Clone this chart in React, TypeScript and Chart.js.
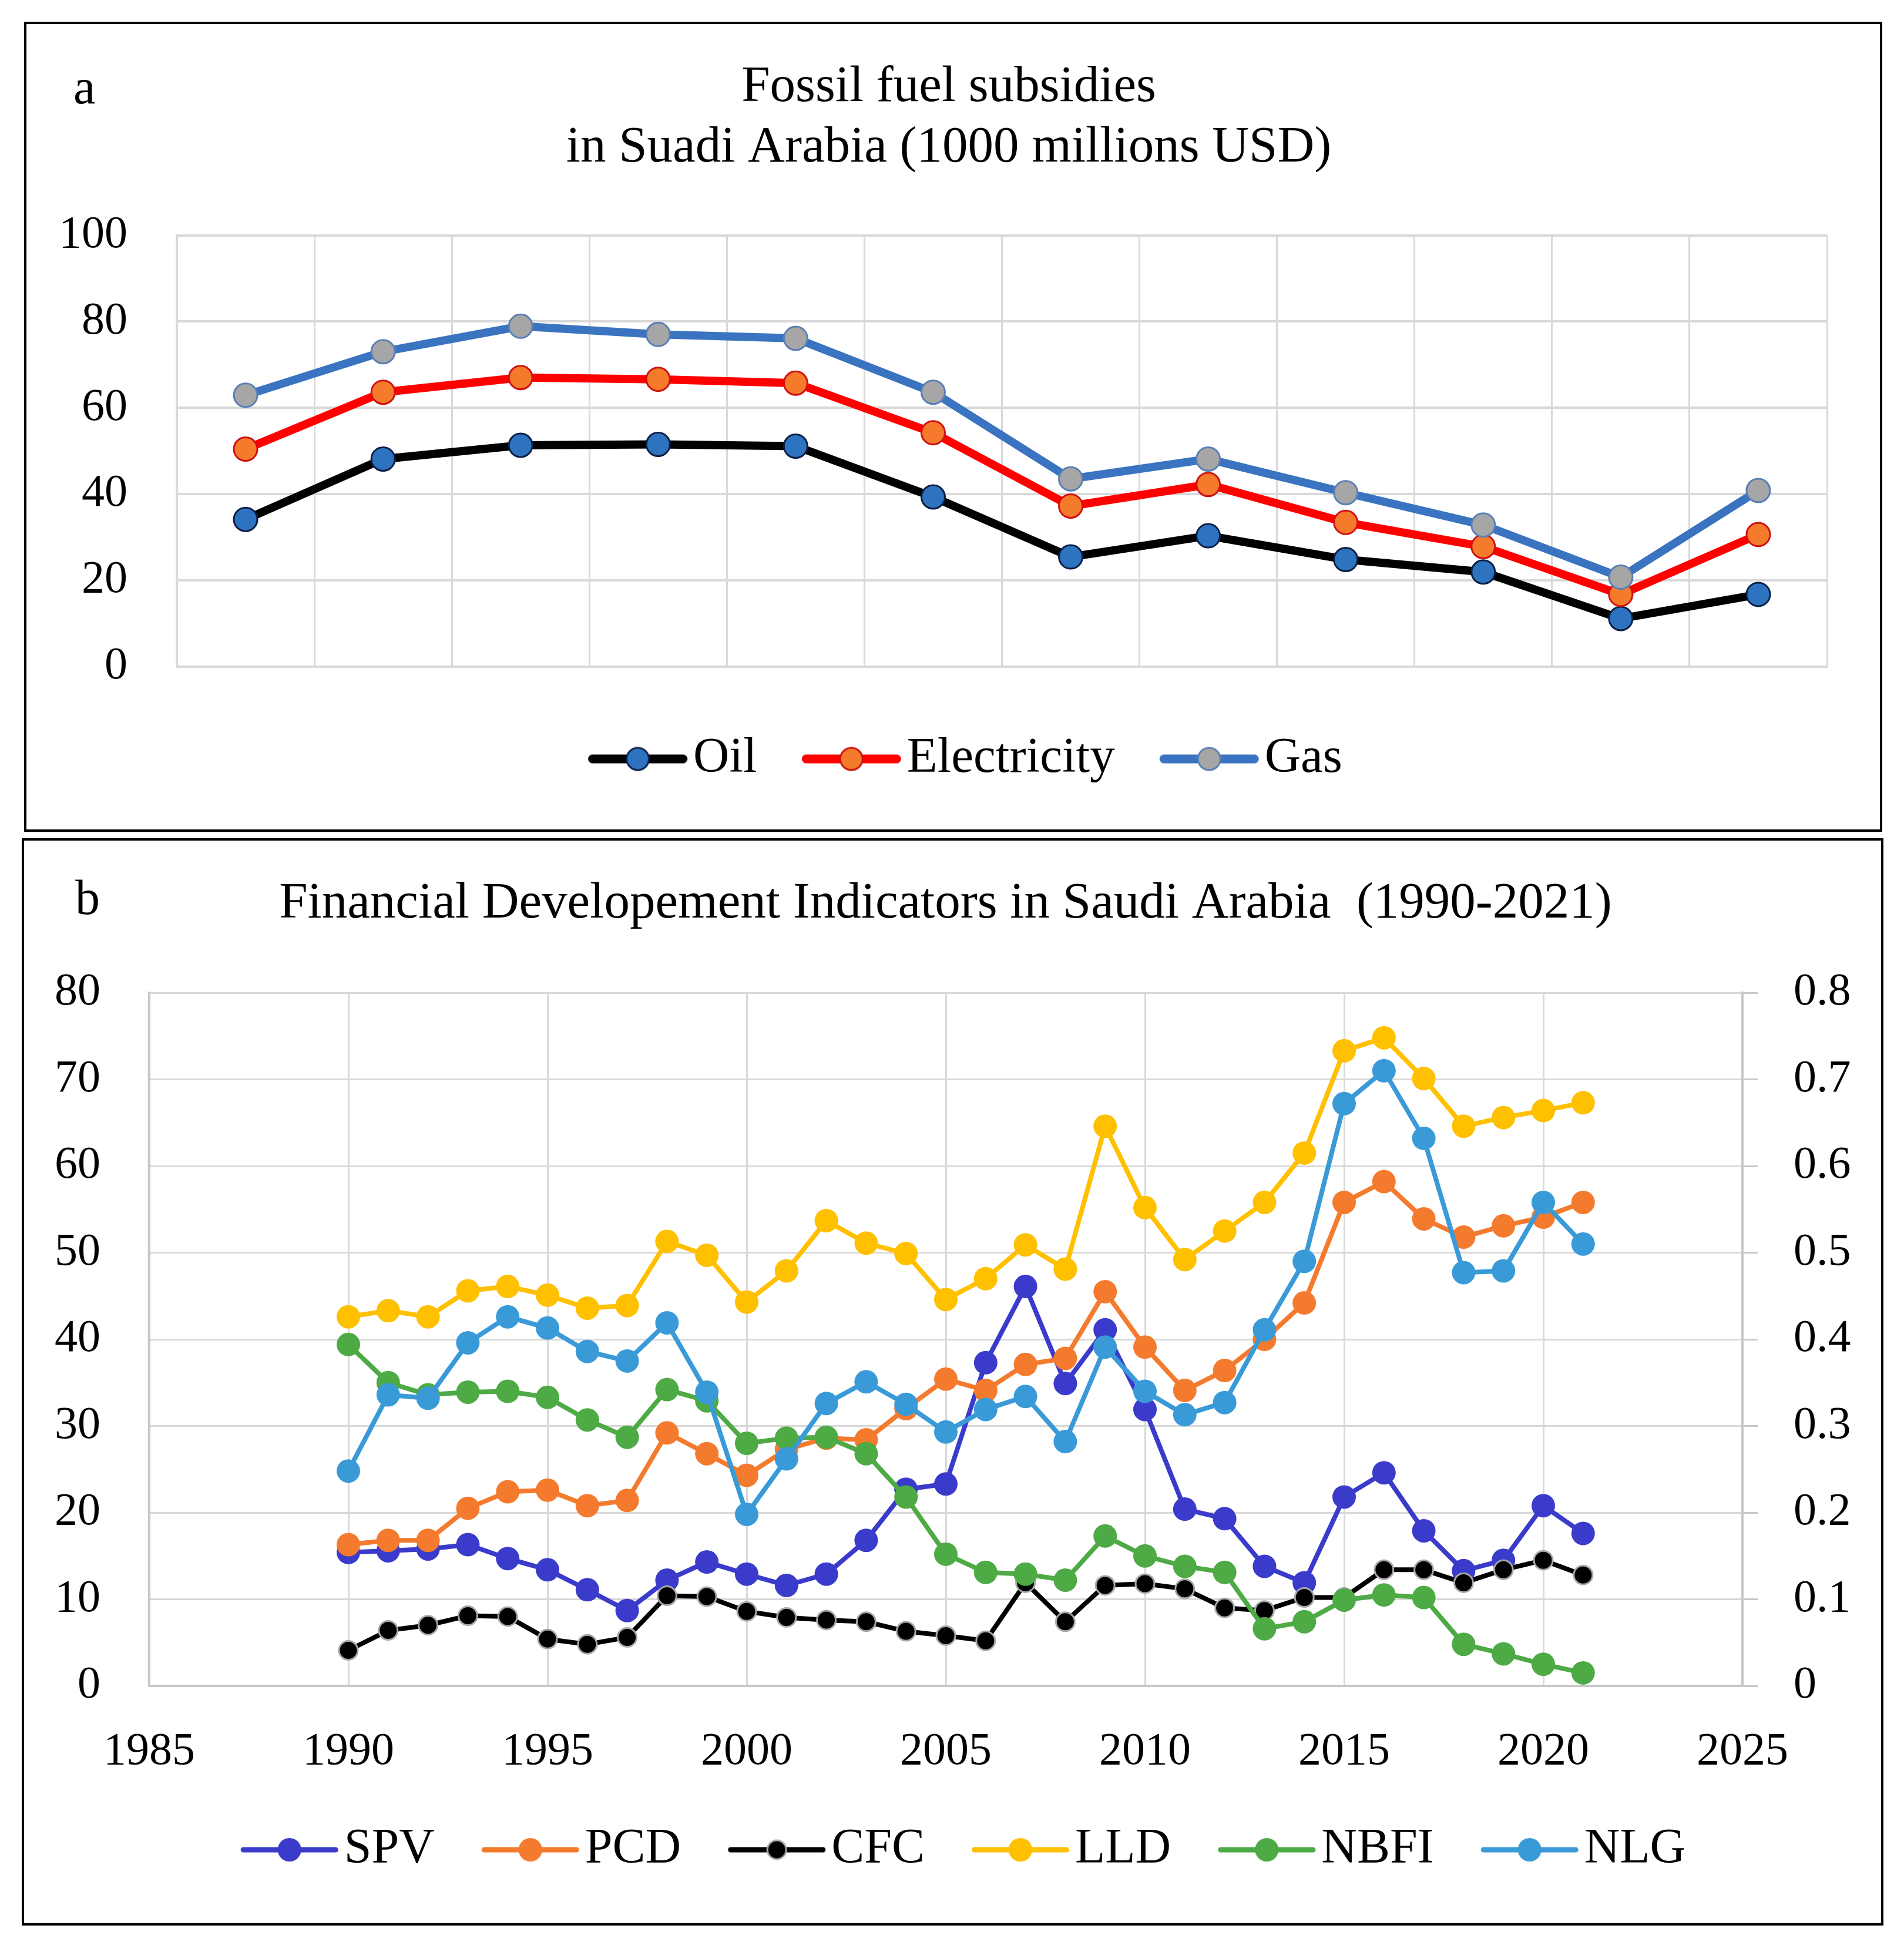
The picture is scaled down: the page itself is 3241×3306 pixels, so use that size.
import React, { useEffect, useRef } from 'react';
import { Chart, registerables } from 'chart.js';

Chart.register(...registerables);

const FONT = '"Liberation Serif", "Times New Roman", serif';

// ---------- Panel a: fossil fuel subsidies ----------
const subsidyPeriods = ['1', '2', '3', '4', '5', '6', '7', '8', '9', '10', '11', '12'];
const oilSubsidy = [34.1, 48.1, 51.3, 51.5, 51.1, 39.3, 25.4, 30.3, 24.8, 21.9, 11.1, 16.7];
const electricitySubsidy = [50.4, 63.6, 67.0, 66.6, 65.7, 54.2, 37.2, 42.2, 33.4, 27.8, 16.7, 30.6];
const gasSubsidy = [62.9, 73.0, 78.9, 77.0, 76.1, 63.6, 43.5, 48.1, 40.3, 32.8, 20.7, 40.8];
const subsidyTicks = [0, 20, 40, 60, 80, 100];
const subsidyTitle = ['Fossil fuel subsidies', 'in Suadi Arabia (1000 millions USD)'];

// ---------- Panel b: financial development indicators ----------
const years = [
  1990, 1991, 1992, 1993, 1994, 1995, 1996, 1997, 1998, 1999, 2000, 2001, 2002, 2003, 2004, 2005,
  2006, 2007, 2008, 2009, 2010, 2011, 2012, 2013, 2014, 2015, 2016, 2017, 2018, 2019, 2020, 2021,
];
const spv = [
  15.4, 15.6, 15.8, 16.3, 14.7, 13.4, 11.1, 8.7, 12.2, 14.3, 12.9, 11.6, 12.9, 16.8, 22.7, 23.3,
  37.3, 46.1, 34.9, 41.1, 31.9, 20.4, 19.3, 13.8, 11.9, 21.8, 24.6, 17.9, 13.3, 14.5, 20.8, 17.6,
];
const pcd = [
  16.3, 16.8, 16.8, 20.5, 22.4, 22.6, 20.8, 21.4, 29.2, 26.8, 24.3, 27.3, 28.6, 28.4, 32.0, 35.4,
  34.1, 37.1, 37.8, 45.5, 39.1, 34.1, 36.4, 40.0, 44.2, 55.8, 58.2, 53.9, 51.8, 53.1, 54.1, 55.8,
];
const cfc = [
  4.1, 6.4, 7.0, 8.1, 8.0, 5.4, 4.8, 5.6, 10.4, 10.3, 8.6, 7.9, 7.6, 7.4, 6.3, 5.8,
  5.2, 11.9, 7.4, 11.6, 11.8, 11.2, 9.0, 8.7, 10.2, 10.2, 13.4, 13.4, 11.9, 13.4, 14.5, 12.8,
];
const lld = [
  42.6, 43.3, 42.6, 45.6, 46.1, 45.1, 43.6, 43.9, 51.3, 49.7, 44.3, 47.9, 53.7, 51.1, 49.9, 44.6,
  47.0, 50.9, 48.1, 64.6, 55.2, 49.2, 52.5, 55.8, 61.5, 73.3, 74.8, 70.1, 64.6, 65.6, 66.4, 67.3,
];
const nbfi = [
  39.4, 35.0, 33.6, 33.9, 34.0, 33.3, 30.7, 28.7, 34.2, 32.9, 28.0, 28.6, 28.7, 26.8, 21.8, 15.2,
  13.1, 12.9, 12.2, 17.3, 15.0, 13.8, 13.1, 6.6, 7.4, 9.9, 10.5, 10.2, 4.8, 3.7, 2.5, 1.5,
];
const nlg = [
  24.8, 33.6, 33.2, 39.6, 42.6, 41.3, 38.6, 37.5, 41.9, 33.9, 19.8, 26.2, 32.6, 35.1, 32.5, 29.3,
  31.9, 33.4, 28.2, 39.1, 34.0, 31.3, 32.7, 41.1, 49.0, 67.2, 71.0, 63.2, 47.7, 47.9, 55.8, 51.0,
];
const yearTicks = [1985, 1990, 1995, 2000, 2005, 2010, 2015, 2020, 2025];
const leftTicks = [0, 10, 20, 30, 40, 50, 60, 70, 80];
const rightTicks = [0, 0.1, 0.2, 0.3, 0.4, 0.5, 0.6, 0.7, 0.8];
const finTitle = 'Financial Developement Indicators in Saudi Arabia  (1990-2021)';

const GRID = '#D9D9D9';
const AXIS = '#C8C8C8';

// Legend icon: a short line with a marker, placed inside a wider transparent image
function makeIcon(
  imgWidth: number,
  offset: number,
  iconWidth: number,
  lineWidth: number,
  lineColor: string,
  radius: number,
  fill: string,
  border: string,
  borderW: number
) {
  const c = document.createElement('canvas');
  const h = Math.ceil(2 * radius + borderW + 6);
  c.width = imgWidth;
  c.height = h;
  const ctx = c.getContext('2d')!;
  ctx.strokeStyle = lineColor;
  ctx.lineWidth = lineWidth;
  ctx.lineCap = 'round';
  ctx.beginPath();
  ctx.moveTo(offset + lineWidth / 2, h / 2);
  ctx.lineTo(offset + iconWidth - lineWidth / 2, h / 2);
  ctx.stroke();
  ctx.beginPath();
  ctx.arc(offset + iconWidth / 2, h / 2, radius, 0, Math.PI * 2);
  ctx.fillStyle = fill;
  ctx.fill();
  if (borderW > 0) {
    ctx.lineWidth = borderW;
    ctx.strokeStyle = border;
    ctx.stroke();
  }
  return c;
}

function panelLabel(text: string, x: number, y: number) {
  return {
    id: 'panelLabel' + text,
    afterDraw(chart: any) {
      const ctx = chart.ctx;
      ctx.save();
      ctx.font = `84px ${FONT}`;
      ctx.fillStyle = '#000';
      ctx.textBaseline = 'alphabetic';
      ctx.textAlign = 'left';
      ctx.fillText(text, x, y);
      ctx.restore();
    },
  };
}

function legendLabels(icons: HTMLCanvasElement[]) {
  return (chart: any) => {
    const items = (Chart.defaults.plugins.legend.labels as any).generateLabels(chart);
    items.sort((a: any, b: any) => a.datasetIndex - b.datasetIndex);
    return items.map((it: any) => ({ ...it, pointStyle: icons[it.datasetIndex] }));
  };
}

export default function App() {
  const topRef = useRef<HTMLCanvasElement>(null);
  const botRef = useRef<HTMLCanvasElement>(null);

  useEffect(() => {
    Chart.defaults.font.family = FONT;
    Chart.defaults.color = '#000';

    // ---- top chart ----
    const topSeries = [
      { label: 'Oil', data: oilSubsidy, line: '#000000', fill: '#2E73C0', border: '#0B1F45' },
      { label: 'Electricity', data: electricitySubsidy, line: '#FF0000', fill: '#F57A2C', border: '#D01010' },
      { label: 'Gas', data: gasSubsidy, line: '#3A74C0', fill: '#A6A6A6', border: '#5A7FB5' },
    ];
    const topIcons = topSeries.map((s) => makeIcon(260, 89.75, 169, 15, s.line, 19, s.fill, s.border, 3));

    const c1 = new Chart(topRef.current!, {
      type: 'line',
      data: {
        labels: subsidyPeriods,
        datasets: topSeries.map((s, i) => ({
          label: s.label,
          data: s.data,
          borderColor: s.line,
          backgroundColor: s.fill,
          borderWidth: 14,
          pointRadius: 20,
          pointBorderWidth: 3,
          pointBackgroundColor: s.fill,
          pointBorderColor: s.border,
          tension: 0,
          order: 3 - i,
        })),
      },
      options: {
        responsive: false,
        devicePixelRatio: 1,
        animation: false,
        layout: { padding: { left: 0, right: 15, top: 0, bottom: 67.5 } },
        plugins: {
          tooltip: { enabled: false },
          title: {
            display: true,
            text: subsidyTitle,
            color: '#000',
            font: { size: 87, weight: 'normal', lineHeight: 103 / 87 },
            padding: { top: 56.5, bottom: 97 },
          },
          legend: {
            position: 'bottom',
            labels: {
              usePointStyle: true,
              pointStyleWidth: 192.5,
              padding: 20,
              color: '#000',
              font: { size: 85 },
              generateLabels: legendLabels(topIcons),
            },
          },
        },
        scales: {
          x: {
            type: 'category',
            offset: true,
            grid: { offset: true, color: GRID, lineWidth: 3, drawTicks: false },
            border: { display: true, color: GRID, width: 4 },
            ticks: { display: false },
            afterFit: (s: any) => {
              s.height = 95;
            },
          },
          y: {
            min: 0,
            max: 100,
            afterBuildTicks: (s: any) => {
              s.ticks = subsidyTicks.map((v) => ({ value: v }));
            },
            ticks: { font: { size: 78 }, color: '#000', padding: 84 },
            grid: { color: GRID, lineWidth: 4, drawTicks: false },
            border: { display: true, color: GRID, width: 3 },
            afterFit: (s: any) => {
              s.width = 256;
            },
          },
          yRightSpace: {
            type: 'linear',
            position: 'right',
            display: true,
            ticks: { display: false },
            grid: { display: false, drawTicks: false },
            border: { display: false },
            afterFit: (s: any) => {
              s.width = 75;
            },
          },
        },
      } as any,
      plugins: [panelLabel('a', 80, 135)],
    });

    // ---- bottom chart ----
    const botSeries = [
      { label: 'SPV', data: spv, line: '#3B3BCB', fill: '#3B3BCB', border: '#3B3BCB', bw: 0, r: 20 },
      { label: 'PCD', data: pcd, line: '#F47B2E', fill: '#F47B2E', border: '#F47B2E', bw: 0, r: 20 },
      { label: 'CFC', data: cfc, line: '#000000', fill: '#000000', border: '#A8A8A8', bw: 3, r: 16 },
      { label: 'LLD', data: lld, line: '#FFC000', fill: '#FFC000', border: '#FFC000', bw: 0, r: 20 },
      { label: 'NBFI', data: nbfi, line: '#4DAA45', fill: '#4DAA45', border: '#4DAA45', bw: 0, r: 20 },
      { label: 'NLG', data: nlg, line: '#3A9AD8', fill: '#3A9AD8', border: '#3A9AD8', bw: 0, r: 20 },
    ];
    const botIcons = botSeries.map((s) => makeIcon(260, 93, 166, 9, s.line, s.r, s.fill, s.border, s.bw));

    const c2 = new Chart(botRef.current!, {
      type: 'line',
      data: {
        datasets: botSeries.map((s, i) => ({
          label: s.label,
          data: years.map((yr, k) => ({ x: yr, y: s.data[k] })),
          borderColor: s.line,
          backgroundColor: s.fill,
          borderWidth: 8,
          pointRadius: s.r,
          pointBorderWidth: s.bw,
          pointBackgroundColor: s.fill,
          pointBorderColor: s.border,
          tension: 0,
          yAxisID: 'y',
          order: 6 - i,
        })),
      },
      options: {
        responsive: false,
        devicePixelRatio: 1,
        animation: false,
        layout: { padding: { left: 0, right: 24, top: 0, bottom: 73 } },
        plugins: {
          tooltip: { enabled: false },
          title: {
            display: true,
            text: finTitle,
            color: '#000',
            font: { size: 87, weight: 'normal', lineHeight: 1.2 },
            padding: { top: 56.3, bottom: 98.3 },
          },
          legend: {
            position: 'bottom',
            labels: {
              usePointStyle: true,
              pointStyleWidth: 194,
              padding: 20,
              color: '#000',
              font: { size: 84 },
              generateLabels: legendLabels(botIcons),
            },
          },
        },
        scales: {
          x: {
            type: 'linear',
            min: 1985,
            max: 2025,
            afterBuildTicks: (s: any) => {
              s.ticks = yearTicks.map((v) => ({ value: v }));
            },
            ticks: { font: { size: 78 }, color: '#000', padding: 66, callback: (v: any) => String(v) },
            grid: { color: GRID, lineWidth: 3, drawTicks: false },
            border: { display: true, color: AXIS, width: 4 },
            afterFit: (s: any) => {
              s.height = 217;
            },
          },
          y: {
            type: 'linear',
            position: 'left',
            min: 0,
            max: 80,
            afterBuildTicks: (s: any) => {
              s.ticks = leftTicks.map((v) => ({ value: v }));
            },
            ticks: { font: { size: 78 }, color: '#000', padding: 83 },
            grid: { color: GRID, lineWidth: 3, drawTicks: false },
            border: { display: true, color: AXIS, width: 4 },
            afterFit: (s: any) => {
              s.width = 213;
            },
          },
          y1: {
            type: 'linear',
            position: 'right',
            min: 0,
            max: 0.8,
            afterBuildTicks: (s: any) => {
              s.ticks = rightTicks.map((v) => ({ value: v }));
            },
            ticks: {
              font: { size: 78 },
              color: '#000',
              padding: 61,
              callback: (v: any) => (Number(v) === 0 ? '0' : Number(v).toFixed(1)),
            },
            grid: { drawOnChartArea: false, drawTicks: true, tickLength: 26, color: AXIS, lineWidth: 3 },
            border: { display: true, color: AXIS, width: 4 },
            afterFit: (s: any) => {
              s.width = 212;
            },
          },
        },
      } as any,
      plugins: [panelLabel('b', 87, 125)],
    });

    return () => {
      c1.destroy();
      c2.destroy();
    };
  }, []);

  return (
    <div style={{ position: 'absolute', left: 0, top: 0, width: 3241, height: 3306, background: '#fff' }}>
      <div
        style={{
          position: 'absolute',
          left: 41,
          top: 37,
          width: 3163,
          height: 1379,
          border: '4px solid #000',
          boxSizing: 'border-box',
        }}
      >
        <canvas ref={topRef} width={3155} height={1371} style={{ display: 'block' }} />
      </div>
      <div
        style={{
          position: 'absolute',
          left: 37,
          top: 1427,
          width: 3169,
          height: 1851,
          border: '4px solid #000',
          boxSizing: 'border-box',
        }}
      >
        <canvas ref={botRef} width={3161} height={1843} style={{ display: 'block' }} />
      </div>
    </div>
  );
}
